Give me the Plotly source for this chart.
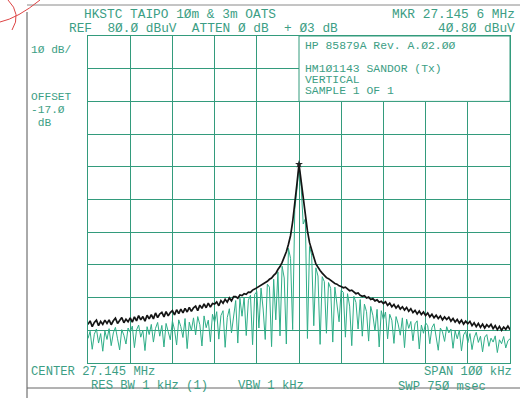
import plotly.graph_objects as go

# ---------------- data ----------------
center_mhz = 27.145
span_khz = 100.0
n_points = 201
ref_level = 80.0      # dBuV, top of screen
db_per_div = 10.0
marker_freq_mhz = 27.1456
marker_level = 40.80

# black trace (dBuV), 0.5 kHz steps from -50 kHz to +50 kHz
black_trace = [
    -8.2, -7.1, -8.9, -7.6, -6.9, -8.6, -7.3, -8.2, -6.9, -7.9,
    -6.8, -8.3, -7.1, -6.3, -7.9, -6.9, -6.1, -7.7, -6.6, -7.4,
    -6.2, -7.5, -5.9, -7.1, -5.5, -6.8, -5.8, -7.2, -5.4, -6.5,
    -5.2, -6.5, -4.7, -6.1, -5.0, -4.5, -5.9, -4.3, -5.6, -4.6,
    -4.0, -5.3, -3.7, -4.9, -3.5, -4.7, -3.3, -4.4, -3.0, -4.2,
    -3.1, -2.6, -4.0, -2.3, -3.3, -1.9, -3.1, -1.7, -2.9, -1.8,
    -2.0, -1.3, -2.5, -0.9, -1.7, -0.5, -1.4, -0.1, -1.0, 0.3,
    0.3, -0.2, 0.8, 0.6, 1.2, 1.0, 1.7, 1.6, 2.3, 2.6,
    3.0, 3.4, 3.6, 4.2, 4.6, 5.0, 5.6, 6.0, 6.8, 7.4,
    8.6, 9.5, 10.8, 12.2, 14.0, 16.3, 19.0, 23.2, 28.3, 34.6,
    40.8,
    35.5, 30.0, 25.2, 20.4, 16.8, 14.2, 12.4, 10.3, 9.2, 8.3,
    7.5, 6.8, 6.1, 5.8, 5.2, 4.9, 4.3, 4.1, 3.6, 3.4,
    3.0, 3.2, 2.5, 2.1, 2.3, 1.6, 1.2, 1.4, 0.7, 0.4,
    0.6, -0.1, 0.2, -0.6, -0.3, -1.0, -0.7, -1.4, -1.1, -1.8,
    -1.3, -2.4, -1.7, -2.8, -2.1, -3.2, -2.4, -3.5, -2.8, -3.8,
    -3.0, -4.2, -3.4, -4.6, -3.9, -5.0, -4.1, -5.2, -4.4, -5.5,
    -4.7, -5.9, -5.1, -6.2, -5.4, -6.4, -5.6, -6.8, -5.9, -6.7,
    -6.0, -7.2, -6.4, -7.5, -6.7, -7.8, -6.9, -8.1, -7.2, -8.0,
    -7.3, -8.6, -7.7, -8.9, -7.9, -9.1, -8.1, -9.3, -8.3, -9.0,
    -8.2, -9.5, -8.6, -9.8, -8.8, -10.0, -9.0, -9.7, -8.7, -9.8,
]

# green (sample) trace (dBuV), same sweep points
green_trace = [
    -12.5, -10.3, -15.8, -11.2, -9.6, -13.9, -11.0, -16.4, -10.2, -12.8,
    -9.5, -14.7, -10.8, -9.1, -12.6, -16.0, -9.8, -11.5, -14.2, -9.3,
    -10.6, -8.7, -15.3, -9.9, -8.4, -12.1, -10.0, -16.2, -8.9, -11.3,
    -8.2, -13.6, -9.4, -7.6, -11.8, -8.5, -15.1, -7.9, -10.4, -12.9,
    -7.1, -9.8, -14.5, -6.8, -8.9, -12.2, -6.4, -15.6, -7.5, -10.1,
    -6.2, -11.4, -5.8, -8.3, -14.8, -5.6, -9.2, -6.9, -13.5, -5.1,
    -7.6, -4.3, -12.7, -5.5, -4.0, -15.2, -6.1, -3.4, -10.8, -4.9,
    -0.9, -13.9, -0.2, -5.7, 0.1, -11.6, -0.8, 0.7, -14.4, 1.0,
    1.8, -9.3, 2.9, -3.5, -12.8, 4.1, 3.2, -15.0, 5.6, -6.8,
    7.9, -11.7, 9.6, 6.0, -14.2, 15.1, 12.0, -9.8, 26.9, 33.0,
    40.5,
    34.0, 22.5, 24.1, -12.5, 15.6, 13.0, -8.6, 9.1, 6.6, -14.3,
    6.4, 4.9, -10.9, 4.6, 2.8, -13.6, 3.2, -1.8, -7.4, 2.3,
    1.6, -12.1, 1.2, -2.6, -14.7, 0.4, -1.5, -9.6, -0.6, -11.8,
    -2.0, -4.3, -13.3, -2.7, -5.4, -10.2, -3.6, -15.1, -4.0, -6.8,
    -4.4, -12.6, -5.1, -6.9, -14.0, -5.8, -8.1, -11.5, -6.2, -15.3,
    -6.6, -9.4, -7.3, -13.2, -8.0, -7.1, -15.7, -8.4, -10.9, -7.7,
    -8.6, -14.1, -9.2, -8.0, -11.7, -16.1, -9.3, -10.5, -13.4, -8.9,
    -10.8, -9.6, -15.5, -10.2, -12.6, -9.9, -16.3, -11.4, -10.3, -13.8,
    -11.0, -15.9, -12.3, -10.6, -13.7, -11.8, -16.6, -12.1, -11.3, -14.9,
    -12.4, -13.6, -11.7, -16.8, -12.9, -14.1, -11.9, -15.4, -13.2, -12.6,
]

# sweep frequencies (instrument sweep points)
start_mhz = center_mhz - span_khz / 2000.0
step_mhz = span_khz / 1000.0 / (n_points - 1)
freqs = [start_mhz + i * step_mhz for i in range(n_points)]
stop_mhz = start_mhz + span_khz / 1000.0
bottom_level = ref_level - 10 * db_per_div
peak_level = max(black_trace)
peak_freq = freqs[black_trace.index(peak_level)]

# ---------------- style ----------------
W, H = 520, 398
L, R, T, B = 88, 10, 36, 35
PW, PH = W - L - R, H - T - B
GRID = "#339b7c"
TEXT = "#3c9e84"
GREEN = "#2fae88"
FONT = "Liberation Mono"
FS = 12.8      # header lines
FS_FOOT = 12.2 # footer lines
FS_BOX = 11.4  # lines inside the info box
FS_SIDE = 11.2 # left-side annotations


def px(x):
    return (x - L) / PW


def py(y):
    return (H - B - y) / PH


fig = go.Figure()
fig.add_trace(go.Scatter(x=freqs, y=green_trace, mode="lines",
                         line=dict(color=GREEN, width=1), hoverinfo="skip",
                         showlegend=False))
fig.add_trace(go.Scatter(x=freqs, y=black_trace, mode="lines",
                         line=dict(color="#151515", width=1.7), hoverinfo="skip",
                         showlegend=False))
fig.add_trace(go.Scatter(x=[peak_freq], y=[peak_level], mode="markers",
                         marker=dict(symbol="star", size=6, color="#222"),
                         hoverinfo="skip", showlegend=False))

shapes = [
    # info box in the top-right of the graticule
    dict(type="rect", xref="x", yref="y", x0=center_mhz, x1=stop_mhz,
         y0=ref_level - 2 * db_per_div, y1=ref_level,
         fillcolor="white", line=dict(color=GRID, width=1), layer="above"),
    # paper frame
    dict(type="line", xref="paper", yref="paper", x0=px(27), x1=px(520),
         y0=py(5), y1=py(5), line=dict(color="#8a8a8a", width=1)),
    dict(type="line", xref="paper", yref="paper", x0=px(27), x1=px(27),
         y0=py(12), y1=py(398), line=dict(color="#555", width=1)),
    dict(type="line", xref="paper", yref="paper", x0=px(27), x1=px(520),
         y0=py(388), y1=py(388), line=dict(color="#666", width=1)),
    # red pen scribble
    dict(type="path", xref="paper", yref="paper",
         path=f"M {px(0)} {py(22)} Q {px(18)} {py(18)} {px(40)} {py(0)}",
         line=dict(color="#d44", width=1)),
    dict(type="path", xref="paper", yref="paper",
         path=f"M {px(8)} {py(0)} Q {px(22)} {py(14)} {px(12)} {py(30)}",
         line=dict(color="#d44", width=1)),
]


def txt(x, y, s, anchor="left", size=FS):
    return dict(x=px(x), y=py(y), xref="paper", yref="paper", text=s,
                showarrow=False, xanchor=anchor, yanchor="middle",
                font=dict(family=FONT, size=size, color=TEXT))


annotations = [
    txt(82, 15, "HKSTC TAIPO 1Øm & 3m OATS"),
    txt(67, 28, "REF  8Ø.Ø dBuV  ATTEN Ø dB  + Ø3 dB"),
    txt(517, 15, "MKR 27.145 6 MHz", "right"),
    txt(517, 29, "4Ø.8Ø dBuV", "right"),
    txt(29, 50, "1Ø dB/", size=FS_SIDE),
    txt(29, 97, "OFFSET", size=FS_SIDE),
    txt(29, 110, "-17.Ø", size=FS_SIDE),
    txt(29, 123, " dB", size=FS_SIDE),
    txt(303, 46, "HP 85879A Rev. A.Ø2.ØØ", size=FS_BOX),
    txt(303, 69, "HM1Ø1143 SANDOR (Tx)", size=FS_BOX),
    txt(303, 80, "VERTICAL", size=FS_BOX),
    txt(303, 91, "SAMPLE 1 OF 1", size=FS_BOX),
    txt(29, 372, "CENTER 27.145 MHz", size=FS_FOOT),
    txt(89, 386, "RES BW 1 kHz (1)", size=FS_FOOT),
    txt(236, 386, "VBW 1 kHz", size=FS_FOOT),
    txt(514, 372, "SPAN 1ØØ kHz", "right", size=FS_FOOT),
    txt(396, 387, "SWP 75Ø msec", size=FS_FOOT),
]

fig.update_layout(
    width=W, height=H, margin=dict(l=L, r=R, t=T, b=B),
    paper_bgcolor="white", plot_bgcolor="white",
    shapes=shapes, annotations=annotations, showlegend=False,
    xaxis=dict(range=[start_mhz, stop_mhz], tick0=start_mhz, dtick=0.01,
               showgrid=True, gridcolor=GRID, gridwidth=1,
               showticklabels=False, ticks="", zeroline=False,
               showline=True, mirror=True, linecolor=GRID, linewidth=1,
               fixedrange=True),
    yaxis=dict(range=[bottom_level, ref_level], tick0=bottom_level, dtick=db_per_div,
               showgrid=True, gridcolor=GRID, gridwidth=1,
               showticklabels=False, ticks="", zeroline=False,
               showline=True, mirror=True, linecolor=GRID, linewidth=1,
               fixedrange=True),
)

fig.write_html("out.html", config={"displayModeBar": False},
               post_script="document.body.style.margin='0';")
